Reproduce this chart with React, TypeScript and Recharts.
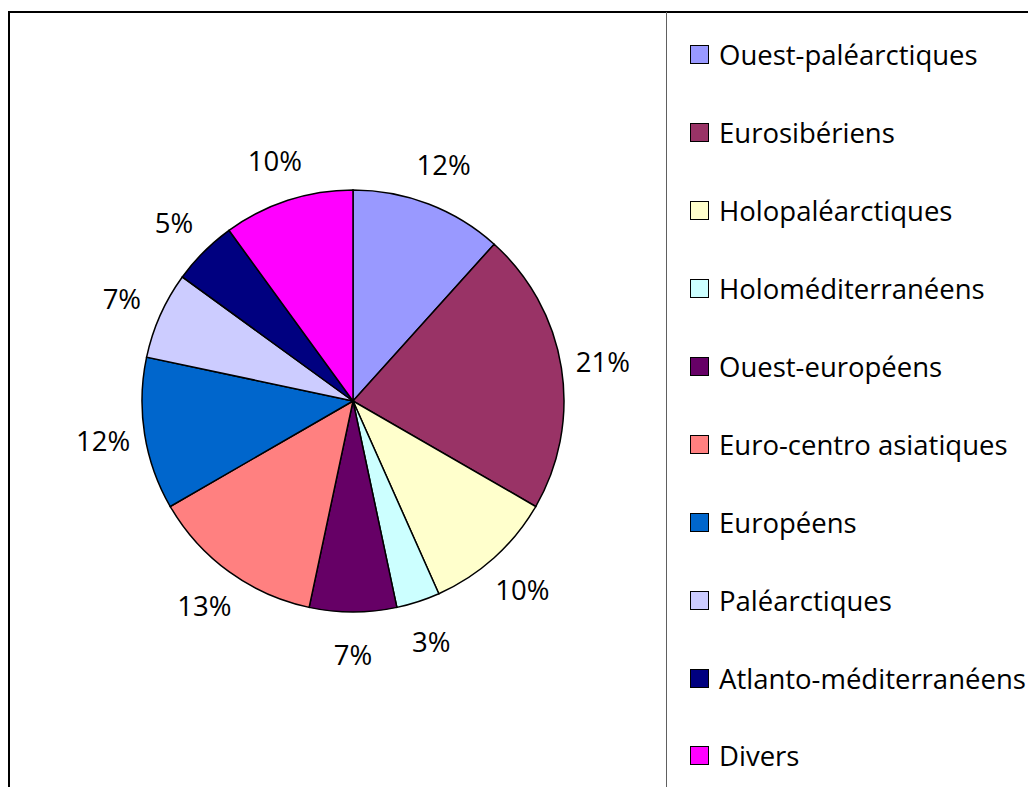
import React from 'react';
import { PieChart, Pie, Cell, Legend } from 'recharts';

const categories = [
  'Ouest-paléarctiques',
  'Eurosibériens',
  'Holopaléarctiques',
  'Holoméditerranéens',
  'Ouest-européens',
  'Euro-centro asiatiques',
  'Européens',
  'Paléarctiques',
  'Atlanto-méditerranéens',
  'Divers',
];
const counts = [7, 13, 6, 2, 4, 8, 7, 4, 3, 6];
const percentLabels = ['12%', '21%', '10%', '3%', '7%', '13%', '12%', '7%', '5%', '10%'];
const colors = ['#9999FF', '#993366', '#FFFFCC', '#CCFFFF', '#660066', '#FF8080', '#0066CC', '#CCCCFF', '#000080', '#FF00FF'];

const data = categories.map((name, i) => ({ name, value: counts[i], label: percentLabels[i], color: colors[i] }));

const FONT = '"Open Sans", sans-serif';
const RAD = Math.PI / 180;

const renderLabel = (props: any) => {
  const { cx, cy, midAngle, outerRadius, index } = props;
  const r = outerRadius + 42;
  const x = cx + r * Math.cos(-midAngle * RAD);
  const y = cy + r * Math.sin(-midAngle * RAD);
  return (
    <text x={x} y={y} textAnchor="middle" dominantBaseline="central" fill="#000" fontSize={27.5} fontFamily={FONT}>
      {percentLabels[index]}
    </text>
  );
};

const renderLegend = () => (
  <div style={{ fontFamily: FONT, fontSize: 27.5, color: '#000' }}>
    {data.map((d) => (
      <div key={d.name} style={{ height: 77.9, display: 'flex', alignItems: 'center', whiteSpace: 'nowrap' }}>
        <span style={{ display: 'inline-block', width: 17, height: 17, background: d.color, border: '1.5px solid #000', marginRight: 10, flex: 'none' }} />
        <span>{d.name}</span>
      </div>
    ))}
  </div>
);

export default function App() {
  return (
    <div style={{ position: 'relative', width: 1028, height: 779, overflow: 'hidden', background: '#fff' }}>
      <div style={{ position: 'absolute', left: 0, top: 3, width: 1200, height: 1000, border: '2px solid #000', boxSizing: 'border-box' }} />
      <div style={{ position: 'absolute', left: 658, top: 4, width: 1, height: 1000, background: '#606060' }} />
      <div style={{ position: 'absolute', left: 0, top: 0 }}>
        <PieChart width={1028} height={779} margin={{ top: 0, right: 0, bottom: 0, left: 0 }}>
          <Pie
            data={data}
            dataKey="value"
            nameKey="name"
            cx={345}
            cy={393}
            outerRadius={211}
            startAngle={90}
            endAngle={-270}
            stroke="#000"
            strokeWidth={1.5}
            label={renderLabel}
            labelLine={false}
            isAnimationActive={false}
          >
            {data.map((d) => (
              <Cell key={d.name} fill={d.color} />
            ))}
          </Pie>
          <Legend
            layout="vertical"
            align="right"
            verticalAlign="top"
            content={renderLegend}
            wrapperStyle={{ position: 'absolute', left: 682, top: 8, width: 346 }}
          />
        </PieChart>
      </div>
    </div>
  );
}
